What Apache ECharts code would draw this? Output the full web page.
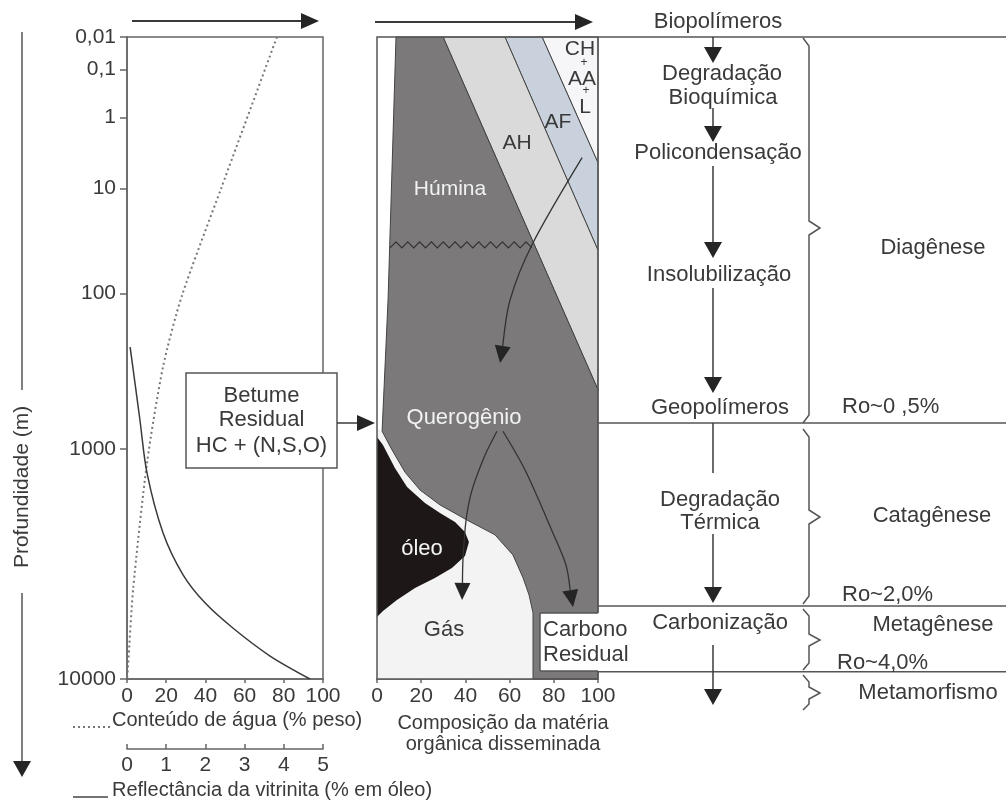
<!DOCTYPE html>
<html><head><meta charset="utf-8">
<script src="https://cdn.jsdelivr.net/npm/echarts@6/dist/echarts.min.js"></script>
<style>html,body{margin:0;padding:0;background:#fff}#c{width:1006px;height:801px}</style>
</head><body><div id="c"></div>
<script>
// ---------- DATA ----------
// depth axis ticks (m)
const depthTicks = [0.01, 0.1, 1, 10, 100, 1000, 10000];
const depthTickLabels = ['0,01', '0,1', '1', '10', '100', '1000', '10000'];
// water content (% weight) vs depth (m) — dotted curve
const waterDepth   = [0.01, 10, 104, 330, 1185, 4540, 9050, 10000];
const waterContent = [76.5, 48, 28, 18.4, 10.2, 3.1, 0.5, 0];
// vitrinite reflectance (% in oil) vs depth (m) — solid curve
const roDepth = [245, 692, 1330, 2580, 3930, 5130, 6450, 8240, 10000];
const roValue = [0.08, 0.33, 0.51, 0.92, 1.43, 1.99, 2.70, 3.65, 4.67];
// composition of disseminated organic matter: regions as [composition %, depth m]
const huminaQuerogenio = [[8.6,0.01],[29.9,0.01],[100,460],[100,10000],[70.6,10000],[70.6,5625],[68.8,4765],[66.1,4050],[61.5,3230],[53.4,2630],[40.7,2250],[28.5,1910],[19.5,1620],[12.7,1320],[6.8,1010],[2.3,800],[5.0,112]];
const acidoHumico   = [[29.9,0.01],[57.9,0.01],[100,43],[100,460]];
const acidoFulvico  = [[57.9,0.01],[74.7,0.01],[100,4.8],[100,43]];
const chAaL         = [[74.7,0.01],[100,0.01],[100,4.8]];
const gasRegion     = [[0,780],[2.3,800],[6.8,1010],[12.7,1320],[19.5,1620],[28.5,1910],[40.7,2250],[53.4,2630],[61.5,3230],[66.1,4050],[68.8,4765],[70.6,5625],[70.6,10000],[0,10000]];
const oleoRegion    = [[0,860],[2.7,951],[8.1,1255],[13.6,1563],[21.7,1870],[28.5,2085],[35.3,2298],[39.8,2553],[41.6,2830],[39.8,3262],[33.9,3677],[26.2,4050],[17.2,4460],[9.0,4990],[2.7,5529],[0,5835]];
const unconformity  = [[5.9,38.4],[70.1,38.4]];
// transformation arrows [composition %, depth m]
const arrowHumic  = [[92.8,4.1],[70.1,38.4],[60.2,112],[55.7,312]];
const arrowOilGas = [[54.3,800],[48.9,1075],[43.0,1620],[40.3,2250],[38.9,3395],[38.5,4990]];
const arrowCarbon = [[57.0,800],[67.0,1286],[79.6,2580],[85.5,3570],[88.7,5330]];
// stage boundaries (m): top, Ro~0,5%, Ro~2,0%, Ro~4,0%
const stageBoundaryDepth = [0.01, 720, 5280, 9420];

// ---------- SETUP ----------
const FONT = '"Liberation Sans", Arial, Helvetica, sans-serif';
const TXT = '#3a3a3a';
const LINE = '#555';
const T = d => Math.pow(d, 0.17);   // stretched-log depth scale of the original figure
const YMIN = T(0.01), YMAX = T(10000);

const chart = echarts.init(document.getElementById('c'));

function yAx(grid, show) {
  return {
    type: 'value', gridIndex: grid, min: YMIN, max: YMAX, inverse: true,
    show: show, splitLine: {show: false},
    axisLine: {show: show, lineStyle: {color: '#666', width: 1.5}},
    axisTick: {show: show, length: 7, lineStyle: {color: '#666', width: 1.5}, customValues: depthTicks.map(T)},
    axisLabel: {show: show, margin: 11, color: TXT, fontSize: 21, fontFamily: FONT,
      customValues: depthTicks.map(T),
      formatter: v => { const i = depthTicks.findIndex(d => Math.abs(T(d) - v) < 1e-6); return i >= 0 ? depthTickLabels[i] : ''; }}
  };
}
function xAx(grid, max, interval, extra) {
  return Object.assign({
    type: 'value', gridIndex: grid, min: 0, max: max, interval: interval, position: 'bottom',
    splitLine: {show: false},
    axisLine: {lineStyle: {color: '#666', width: 1.5}},
    axisTick: {length: 4, lineStyle: {color: '#666', width: 1.5}},
    axisLabel: {margin: 7, color: TXT, fontSize: 21, fontFamily: FONT}
  }, extra || {});
}

function region(pts, fill, stroke) {
  return {
    type: 'custom', xAxisIndex: 2, yAxisIndex: 1, silent: true,
    data: [[50, T(1)]],
    renderItem: (params, api) => ({
      type: 'polygon',
      shape: {points: pts.map(p => api.coord([p[0], T(p[1])]))},
      style: {fill: fill, stroke: stroke || null, lineWidth: 1}
    })
  };
}
function arrowSeries(pts) {
  return {
    type: 'custom', xAxisIndex: 2, yAxisIndex: 1, silent: true,
    data: [[50, T(1)]],
    renderItem: (params, api) => {
      const px = pts.map(p => api.coord([p[0], T(p[1])]));
      const tip = px[px.length - 1], prev = px[px.length - 2];
      let dx = tip[0] - prev[0], dy = tip[1] - prev[1];
      const L = Math.hypot(dx, dy); dx /= L; dy /= L;
      const hl = 17, hw = 8;
      const base = [tip[0] - dx * hl, tip[1] - dy * hl];
      const line = px.slice(0, -1).concat([base]);
      return {type: 'group', children: [
        {type: 'polyline', shape: {points: line, smooth: 0.3}, style: {stroke: '#333', lineWidth: 1.3, fill: null}},
        {type: 'polygon', shape: {points: [tip, [base[0] - dy * hw, base[1] + dx * hw], [base[0] + dy * hw, base[1] - dx * hw]]}, style: {fill: '#252525'}}
      ]};
    }
  };
}
const wavySeries = {
  type: 'custom', xAxisIndex: 2, yAxisIndex: 1, silent: true, data: [[50, T(1)]],
  renderItem: (params, api) => {
    const a = api.coord([unconformity[0][0], T(unconformity[0][1])]);
    const b = api.coord([unconformity[1][0], T(unconformity[1][1])]);
    const pts = []; const n = Math.round((b[0] - a[0]) / 6);
    for (let i = 0; i <= n; i++) pts.push([a[0] + (b[0] - a[0]) * i / n, a[1] + (i % 2 ? -3 : 3)]);
    return {type: 'polyline', shape: {points: pts}, style: {stroke: '#333', lineWidth: 1.2, fill: null}};
  }
};
const stageSeries = {
  type: 'custom', xAxisIndex: 3, yAxisIndex: 2, silent: true,
  data: stageBoundaryDepth.map(d => [0, T(d)]),
  renderItem: (params, api) => {
    const a = api.coord([0, api.value(1)]), b = api.coord([1, api.value(1)]);
    return {type: 'line', shape: {x1: a[0], y1: a[1], x2: b[0], y2: b[1]}, style: {stroke: LINE, lineWidth: 1.5}};
  }
};

// ---------- GRAPHIC HELPERS (layout/annotation) ----------
const G = [];
function txt(x, y, text, size, opt) {
  G.push(Object.assign({type: 'text', z: 60, x: x, y: y,
    style: Object.assign({text: text, font: size + 'px ' + FONT, fill: TXT, align: 'center', verticalAlign: 'middle'}, (opt && opt.style) || {})},
    opt && opt.el || {}));
}
function ln(x1, y1, x2, y2, w, extra) {
  G.push({type: 'line', z: 55, shape: {x1, y1, x2, y2}, style: Object.assign({stroke: '#3a3a3a', lineWidth: w || 1.5}, extra || {})});
}
function triDown(x, tip) { G.push({type: 'polygon', z: 56, shape: {points: [[x - 9, tip - 16], [x + 9, tip - 16], [x, tip]]}, style: {fill: '#252525'}}); }
function triRight(tip, y) { G.push({type: 'polygon', z: 56, shape: {points: [[tip - 18, y - 8], [tip - 18, y + 8], [tip, y]]}, style: {fill: '#252525'}}); }
function flowArrow(x, y1, tip) { ln(x, y1, x, tip - 14, 1.5); triDown(x, tip); }
function brace(pts) { G.push({type: 'polyline', z: 55, shape: {points: pts}, style: {stroke: LINE, lineWidth: 1.5, fill: null}}); }

// depth axis title and arrow
ln(22, 32, 22, 390, 1.5, {stroke: '#555'});
txt(22, 487, 'Profundidade (m)', 21, {el: {rotation: Math.PI / 2}});
ln(22, 593, 22, 762, 1.5, {stroke: '#555'});
triDown(22, 777);
// top arrows
ln(132, 21, 302, 21, 2); triRight(319, 21);
ln(375, 22, 576, 22, 2); triRight(593, 22);
// left panel legends / titles
G.push({type: 'line', z: 55, shape: {x1: 73, y1: 727, x2: 110, y2: 727}, style: {stroke: '#777', lineWidth: 2, lineDash: [2, 3]}});
txt(112, 720, 'Conteúdo de água (% peso)', 20, {style: {align: 'left'}});
ln(73, 797, 108, 797, 1.5, {stroke: '#444'});
txt(112, 790, 'Reflectância da vitrinita (% em óleo)', 20, {style: {align: 'left'}});
// middle title
txt(503, 723, 'Composição da matéria', 20);
txt(503, 744, 'orgânica disseminada', 20);
// Betume box
G.push({type: 'rect', z: 54, shape: {x: 186, y: 373, width: 151, height: 95}, style: {fill: '#fff', stroke: LINE, lineWidth: 1.5}});
txt(261.5, 396, 'Betume', 22); txt(261.5, 420, 'Residual', 22); txt(261.5, 446, 'HC + (N,S,O)', 22);
ln(337, 423, 358, 423, 1.5); triRight(375, 423);
// middle panel frame
G.push({type: 'rect', z: 50, shape: {x: 377, y: 37, width: 221, height: 642}, style: {fill: null, stroke: LINE, lineWidth: 1.5}});
// middle labels
txt(580, 49, 'CH', 21); txt(584, 63, '+', 12); txt(582, 79, 'AA', 21); txt(586, 91, '+', 12); txt(585, 107, 'L', 21);
txt(558, 122, 'AF', 21); txt(517, 143, 'AH', 21);
txt(450, 189, 'Húmina', 21, {style: {fill: '#f2f2f2'}});
txt(464, 418, 'Querogênio', 22, {style: {fill: '#f2f2f2'}});
txt(422, 549, 'óleo', 22, {style: {fill: '#f5f5f5'}});
txt(444, 630, 'Gás', 22);
// Carbono Residual box
G.push({type: 'rect', z: 57, shape: {x: 540, y: 613, width: 100, height: 58}, style: {fill: '#fff'}});
ln(540, 613, 540, 671, 1.5, {stroke: LINE}); ln(540, 613, 598, 613, 1.5, {stroke: LINE}); ln(540, 671, 598, 671, 1.5, {stroke: LINE});
G[G.length - 1].z = 58; G[G.length - 2].z = 58; G[G.length - 3].z = 58;
txt(543, 630, 'Carbono', 22, {style: {align: 'left'}});
txt(543, 655, 'Residual', 22, {style: {align: 'left'}});
G[G.length - 1].z = 59; G[G.length - 2].z = 59;
// right flow chart
txt(718, 22, 'Biopolímeros', 22);
flowArrow(713, 37, 63);
txt(722, 74, 'Degradação', 22); txt(723, 98, 'Bioquímica', 22);
flowArrow(713, 108, 142);
txt(718, 153, 'Policondensação', 22);
flowArrow(713, 166, 258);
txt(719, 275, 'Insolubilização', 22);
flowArrow(713, 288, 393);
txt(720, 408, 'Geopolímeros', 22);
ln(713, 423, 713, 473, 1.5);
txt(720, 500, 'Degradação', 22); txt(720, 523, 'Térmica', 22);
flowArrow(713, 534, 603);
txt(720, 623, 'Carbonização', 22);
flowArrow(713, 645, 705);
// braces
brace([[803, 38], [809, 46], [809, 221], [820, 228], [809, 235], [809, 415], [803, 423]]);
brace([[803, 429], [809, 437], [809, 510], [820, 517], [809, 524], [809, 596], [803, 604]]);
brace([[803, 609], [809, 616], [809, 634], [820, 640], [809, 646], [809, 663], [803, 670]]);
brace([[803, 675], [809, 682], [809, 687], [820, 693], [809, 699], [809, 704], [803, 710]]);
// stages
txt(933, 248, 'Diagênese', 22);
txt(932, 516, 'Catagênese', 22);
txt(933, 625, 'Metagênese', 22);
txt(928, 693, 'Metamorfismo', 22);
txt(842, 407, 'Ro~0 ,5%', 22, {style: {align: 'left'}});
txt(842, 595, 'Ro~2,0%', 22, {style: {align: 'left'}});
txt(837, 663, 'Ro~4,0%', 22, {style: {align: 'left'}});

// ---------- OPTION ----------
const option = {
  backgroundColor: '#fff',
  animation: false,
  grid: [
    {left: 127, top: 37, width: 196, height: 642, show: true, borderColor: '#666', borderWidth: 1.5},
    {left: 377, top: 37, width: 221, height: 642, show: false},
    {left: 598, top: 37, width: 408, height: 642, show: false}
  ],
  xAxis: [
    xAx(0, 100, 20),
    xAx(0, 5, 1, {offset: 70, axisTick: {inside: true, length: 5, lineStyle: {color: '#666', width: 1.5}}, axisLabel: {margin: 6, color: TXT, fontSize: 21, fontFamily: FONT}}),
    xAx(1, 100, 20),
    {type: 'value', gridIndex: 2, min: 0, max: 1, show: false}
  ],
  yAxis: [yAx(0, true), yAx(1, false), yAx(2, false)],
  series: [
    {type: 'line', xAxisIndex: 0, yAxisIndex: 0, showSymbol: false, smooth: 0.25, silent: true,
      data: waterDepth.map((d, i) => [waterContent[i], T(d)]),
      lineStyle: {color: '#777', width: 2, type: [2, 3]}},
    {type: 'line', xAxisIndex: 1, yAxisIndex: 0, showSymbol: false, smooth: 0.3, silent: true,
      data: roDepth.map((d, i) => [roValue[i], T(d)]),
      lineStyle: {color: '#3a3a3a', width: 1.5}},
    region(gasRegion, '#f3f3f3', null),
    region(chAaL, '#f6f6f8', '#444'),
    region(acidoFulvico, '#c9d1dc', '#444'),
    region(acidoHumico, '#dadada', '#444'),
    region(huminaQuerogenio, '#7b7979', '#444'),
    region(oleoRegion, '#1e1717', null),
    wavySeries,
    arrowSeries(arrowHumic),
    arrowSeries(arrowOilGas),
    arrowSeries(arrowCarbon),
    stageSeries
  ],
  graphic: {elements: G}
};
chart.setOption(option);
</script></body></html>
